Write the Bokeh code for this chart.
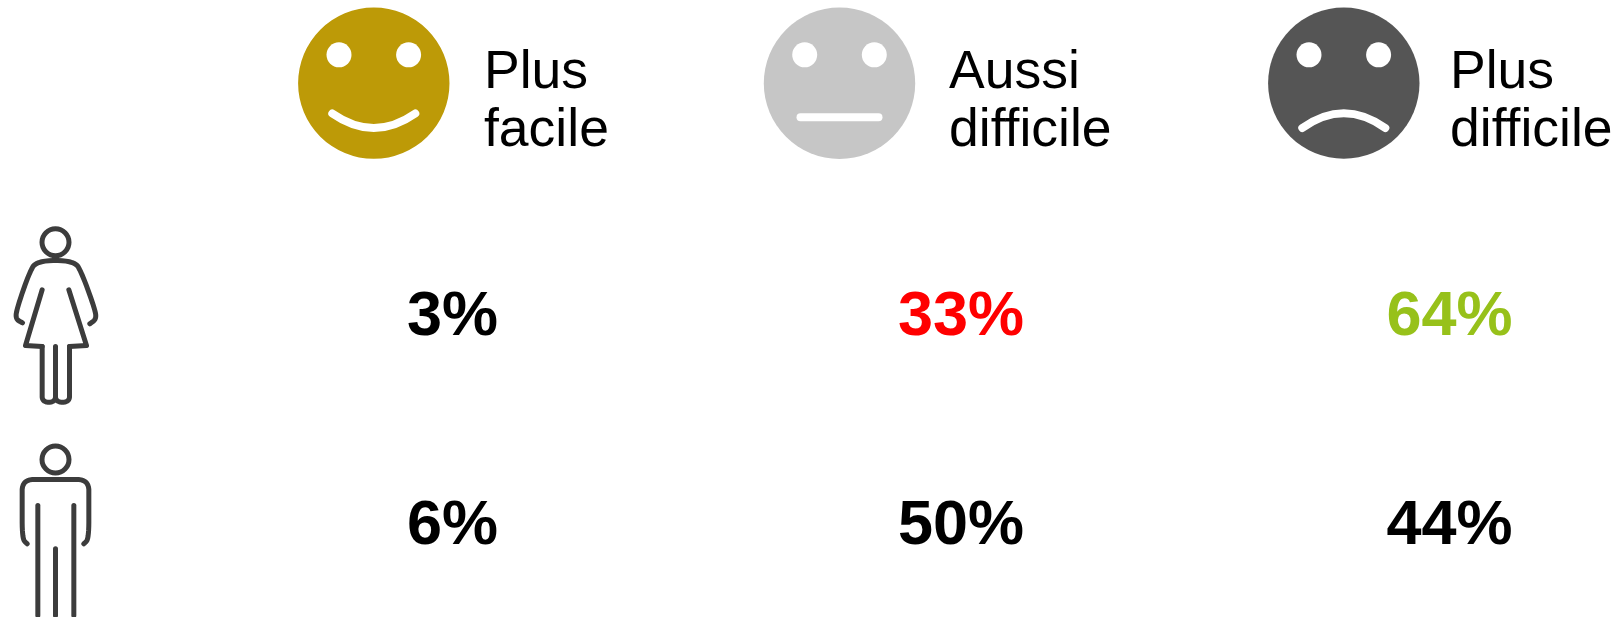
from bokeh.plotting import figure
from bokeh.models import Range1d, ColumnDataSource
from bokeh.core.properties import value
from bokeh.embed import file_html
from bokeh.resources import INLINE

# --- data ---
categories = ["Plus\nfacile", "Aussi\ndifficile", "Plus\ndifficile"]
women = [3, 33, 64]
men = [6, 50, 44]
women_colors = ["#000000", "#FF0000", "#97C11A"]
men_colors = ["#000000", "#000000", "#000000"]
face_colors = ["#BD9A07", "#C6C6C6", "#555555"]

# --- layout (page pixels) ---
face_x = [373.3, 839.0, 1343.3]
face_y = 82.7
face_r = 75.7
eye_dx = 34.8
eye_y = 54.3
eye_r = 12.5
label_x = [483.5, 948.5, 1449.5]
label_y = [68.5, 127.0]
pct_x = [406.5, 897.5, 1386.0]
row_y = [312.0, 521.0]
INK = "#3C3C3C"
FONT = "Liberation Sans"

W, H = 1619, 617
p = figure(width=W, height=H, x_range=Range1d(0, W), y_range=Range1d(H, 0),
           output_backend="svg", toolbar_location=None, min_border=0,
           outline_line_color=None, background_fill_color="white", border_fill_color="white")
p.xaxis.visible = False
p.yaxis.visible = False
p.grid.visible = False

# faces
p.circle(x=face_x, y=[face_y] * 3, radius=face_r, fill_color=face_colors, line_color=None)
eyes_x = [c + s * eye_dx for c in face_x for s in (-1, 1)]
p.circle(x=eyes_x, y=[eye_y] * 6, radius=eye_r, fill_color="white", line_color=None)

# mouths
m = 41.5
p.quadratic(x0=[face_x[0] - m], y0=[113.0], x1=[face_x[0] + m], y1=[113.0],
            cx=[face_x[0]], cy=[142.0], line_color="white", line_width=8, line_cap="round")
p.line(x=[face_x[1] - 39, face_x[1] + 39], y=[116.7, 116.7], line_color="white",
       line_width=8, line_cap="round")
p.quadratic(x0=[face_x[2] - m], y0=[127.5], x1=[face_x[2] + m], y1=[127.5],
            cx=[face_x[2]], cy=[98.0], line_color="white", line_width=8, line_cap="round")

# header labels
for x, lab in zip(label_x, categories):
    for y, line in zip(label_y, lab.split("\n")):
        p.text(x=[x], y=[y], text=[line], text_font=value(FONT), text_font_size="53.5px",
               text_color="#000000", text_baseline="alphabetic", text_align="left")

# percentages
for y, vals, cols in ((row_y[0], women, women_colors), (row_y[1], men, men_colors)):
    src = ColumnDataSource(dict(x=pct_x, y=[y] * 3, t=[f"{v}%" for v in vals], c=cols))
    p.text(x="x", y="y", text="t", text_color="c", source=src, text_font=value(FONT),
           text_font_style="bold", text_font_size="63px", text_baseline="alphabetic",
           text_align="left")

# pictograms
def smooth(pts, n=3):
    for _ in range(n):
        out = [pts[0]]
        for (a, b), (c, d) in zip(pts[:-1], pts[1:]):
            out += [(0.75 * a + 0.25 * c, 0.75 * b + 0.25 * d), (0.25 * a + 0.75 * c, 0.25 * b + 0.75 * d)]
        out.append(pts[-1])
        pts = out
    return pts

def z(pts, oy):
    return [a / 3 for a, _ in pts], [b / 3 + oy for _, b in pts]

woman_parts = [
    smooth([(66, 337), (46, 326), (48, 298), (85, 190), (108, 150), (222, 150),
            (245, 190), (284, 298), (287, 326), (268, 340)]),
    [(125, 238), (75, 405), (125, 408)],
    smooth([(125, 408), (125, 540), (125, 575), (165, 575), (165, 540), (165, 408)]),
    [(205, 238), (258, 405), (207, 408)],
    smooth([(207, 408), (207, 540), (207, 575), (165, 575), (165, 540)]),
]
man_parts = [
    smooth([(80, 340), (65, 325), (65, 215), (65, 147), (135, 147), (195, 147),
            (265, 147), (265, 215), (265, 325), (250, 340)]),
    [(112, 225), (112, 555)],
    [(220, 225), (220, 555)],
    [(165, 355), (165, 555)],
]
for parts, oy, lw in ((woman_parts, 210, 5.0), (man_parts, 430, 5.0)):
    xs, ys = zip(*[z(q, oy) for q in parts])
    p.multi_line(xs=list(xs), ys=list(ys), line_color=INK, line_width=lw,
                 line_cap="round", line_join="round")
p.circle(x=[55, 55], y=[241.7, 459], radius=13.5, fill_color=None, line_color=INK, line_width=5)

open("out.html", "w").write(file_html(p, INLINE))
